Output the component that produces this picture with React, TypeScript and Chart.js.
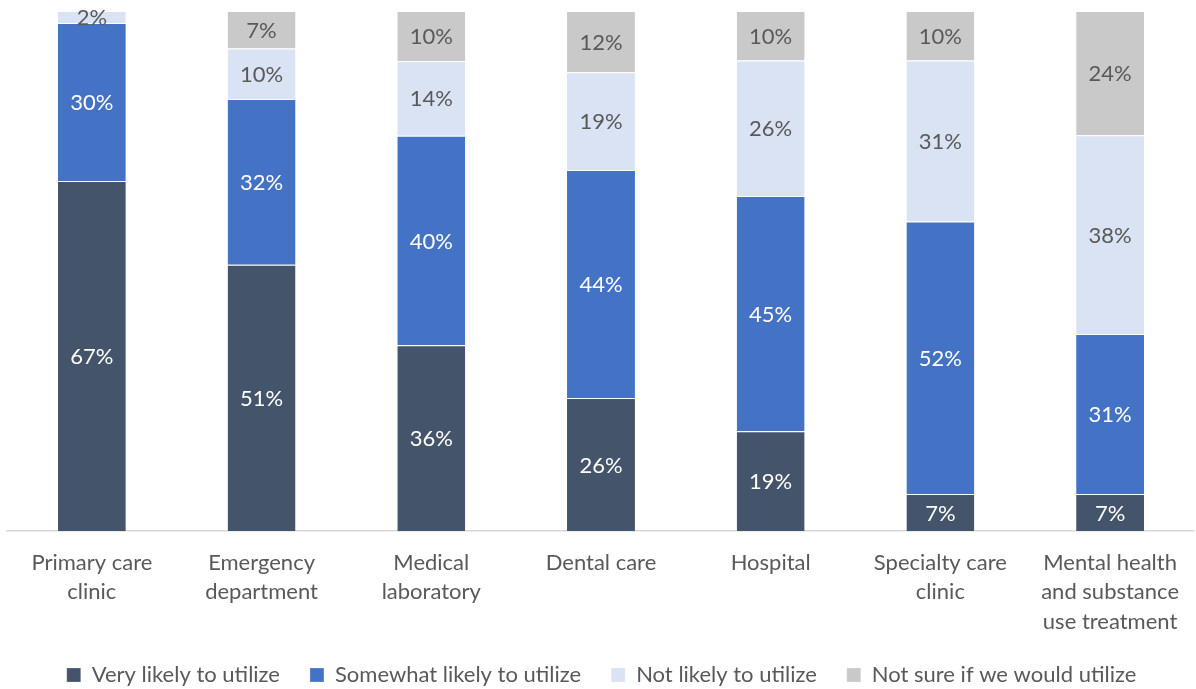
import React, { useEffect, useRef } from "react";
import { Chart, registerables } from "chart.js";

Chart.register(...registerables);

const categories: (string | string[])[] = [
  ["Primary care", "clinic"],
  ["Emergency", "department"],
  ["Medical", "laboratory"],
  "Dental care",
  "Hospital",
  ["Specialty care", "clinic"],
  ["Mental health", "and substance", "use treatment"],
];

const veryLikely = [67.3, 51.2, 35.7, 25.6, 19.2, 7.1, 7.1];
const somewhatLikely = [30.4, 31.9, 40.3, 43.8, 45.2, 52.4, 30.8];
const notLikely = [2.3, 9.7, 14.4, 18.8, 26.1, 31.0, 38.2];
const notSure = [0, 7.2, 9.6, 11.8, 9.5, 9.5, 23.9];

const seriesNames = [
  "Very likely to utilize",
  "Somewhat likely to utilize",
  "Not likely to utilize",
  "Not sure if we would utilize",
];

const FONT = "Lato";
const GREY_TEXT = "#595959";

const labelPlugin = {
  id: "segLabels",
  afterDatasetsDraw(chart: any) {
    const ctx = chart.ctx;
    ctx.save();
    ctx.font = `22px ${FONT}`;
    ctx.textAlign = "center";
    ctx.textBaseline = "middle";
    chart.data.datasets.forEach((ds: any, di: number) => {
      const meta = chart.getDatasetMeta(di);
      if (meta.hidden) return;
      meta.data.forEach((el: any, i: number) => {
        const v = ds.data[i];
        if (!v) return;
        ctx.fillStyle = ds.labelColor;
        const y = (el.y + el.base) / 2 + 1;
        ctx.fillText(`${Math.round(v)}%`, el.x, y);
      });
    });
    ctx.restore();
  },
};

export default function App() {
  const ref = useRef<HTMLCanvasElement>(null);
  useEffect(() => {
    if (!ref.current) return;
    const chart = new Chart(ref.current, {
      type: "bar",
      data: {
        labels: categories,
        datasets: [
          { label: seriesNames[0], data: veryLikely, backgroundColor: "#44546A", labelColor: "#FFFFFF" } as any,
          { label: seriesNames[1], data: somewhatLikely, backgroundColor: "#4472C4", labelColor: "#FFFFFF" } as any,
          { label: seriesNames[2], data: notLikely, backgroundColor: "#DAE3F3", labelColor: GREY_TEXT } as any,
          { label: seriesNames[3], data: notSure, backgroundColor: "#C9C9C9", labelColor: GREY_TEXT } as any,
        ].map((d) => ({
          ...d,
          borderColor: "#FFFFFF",
          borderWidth: { top: 1, bottom: 0, left: 0, right: 0 },
          borderSkipped: false,
          categoryPercentage: 1,
          barPercentage: 0.4,
        })),
      },
      options: {
        animation: false,
        responsive: true,
        maintainAspectRatio: false,
        layout: { padding: { left: 7, right: 0, top: 11, bottom: 2 } },
        scales: {
          x: {
            stacked: true,
            grid: { display: false, drawTicks: false },
            border: { display: true, color: "#D9D9D9", width: 1.5 },
            ticks: {
              color: GREY_TEXT,
              font: { family: FONT, size: 22, lineHeight: 1.34 },
              padding: 17,
              maxRotation: 0,
              autoSkip: false,
            },
            afterFit(scale: any) {
              scale.height = 103;
            },
          },
          y: {
            stacked: true,
            display: false,
            min: 0,
            max: 100,
          },
        },
        plugins: {
          legend: {
            position: "bottom",
            labels: {
              color: GREY_TEXT,
              font: { family: FONT, size: 22 },
              boxWidth: 14,
              boxHeight: 14,
              padding: 30,
            },
          },
          tooltip: { enabled: false },
        },
      },
      plugins: [labelPlugin],
    });
    return () => chart.destroy();
  }, []);
  return (
    <div style={{ position: "fixed", left: 0, top: 0, width: 1196, height: 698, background: "#fff" }}>
      <canvas ref={ref} />
    </div>
  );
}
